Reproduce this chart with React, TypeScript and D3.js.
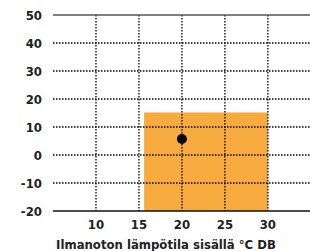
import React from "react";
import * as d3 from "d3";

const WIDTH = 310;
const HEIGHT = 251;
const MARGIN = { top: 15, right: 0, bottom: 40, left: 53 };

const yTicks = [50, 40, 30, 20, 10, 0, -10, -20];
const xTicks = [10, 15, 20, 25, 30];
const rangeX = [15.6, 30];
const rangeY = [-20, 15.2];
const point = { x: 20, y: 5.7 };
const xLabel = "Ilmanoton lämpötila sisällä °C DB";

const FONT = "'DejaVu Sans Condensed', 'Liberation Sans Narrow', sans-serif";

export default function App() {
  const xScale = d3.scaleLinear().domain([5, 34.9]).range([MARGIN.left, WIDTH - MARGIN.right]);
  const yScale = d3.scaleLinear().domain([-20, 50]).range([HEIGHT - MARGIN.bottom, MARGIN.top]);
  const x0 = xScale.range()[0];
  const x1 = xScale.range()[1];

  return (
    <svg
      width={WIDTH}
      height={HEIGHT}
      style={{ position: "absolute", left: 0, top: 0, background: "#fff" }}
    >
      <rect
        x={xScale(rangeX[0])}
        width={xScale(rangeX[1]) - xScale(rangeX[0])}
        y={yScale(rangeY[1])}
        height={yScale(rangeY[0]) - yScale(rangeY[1])}
        fill="#F7AB3E"
      />
      {yTicks.filter((t) => t !== 50 && t !== -20).map((t) => (
        <line key={t} x1={x0} x2={x1} y1={yScale(t)} y2={yScale(t)} stroke="#000" strokeWidth={1.3} strokeDasharray="1.5,1.5" />
      ))}
      {xTicks.map((t) => (
        <line key={t} x1={xScale(t)} x2={xScale(t)} y1={yScale(50)} y2={yScale(-20)} stroke="#000" strokeWidth={1.3} strokeDasharray="1.5,1.5" />
      ))}
      <line x1={x0} x2={x1} y1={yScale(50)} y2={yScale(50)} stroke="#555" strokeWidth={1.6} />
      <line x1={x0} x2={x1} y1={yScale(-20)} y2={yScale(-20)} stroke="#111" strokeWidth={1.6} />
      <circle cx={xScale(point.x)} cy={yScale(point.y)} r={5} fill="#000" />
      {yTicks.map((t) => (
        <text key={t} x={42} y={yScale(t)} dy="0.35em" textAnchor="end" fontFamily={FONT} fontWeight="bold" fontSize={13} fill="#222">
          {t}
        </text>
      ))}
      {xTicks.map((t) => (
        <text key={t} x={xScale(t)} y={224} dy="0.35em" textAnchor="middle" fontFamily={FONT} fontWeight="bold" fontSize={13} fill="#222">
          {t}
        </text>
      ))}
      <text x={166} y={244} dy="0.35em" textAnchor="middle" fontFamily={FONT} fontWeight="bold" fontSize={13} fill="#222">
        {xLabel}
      </text>
    </svg>
  );
}
